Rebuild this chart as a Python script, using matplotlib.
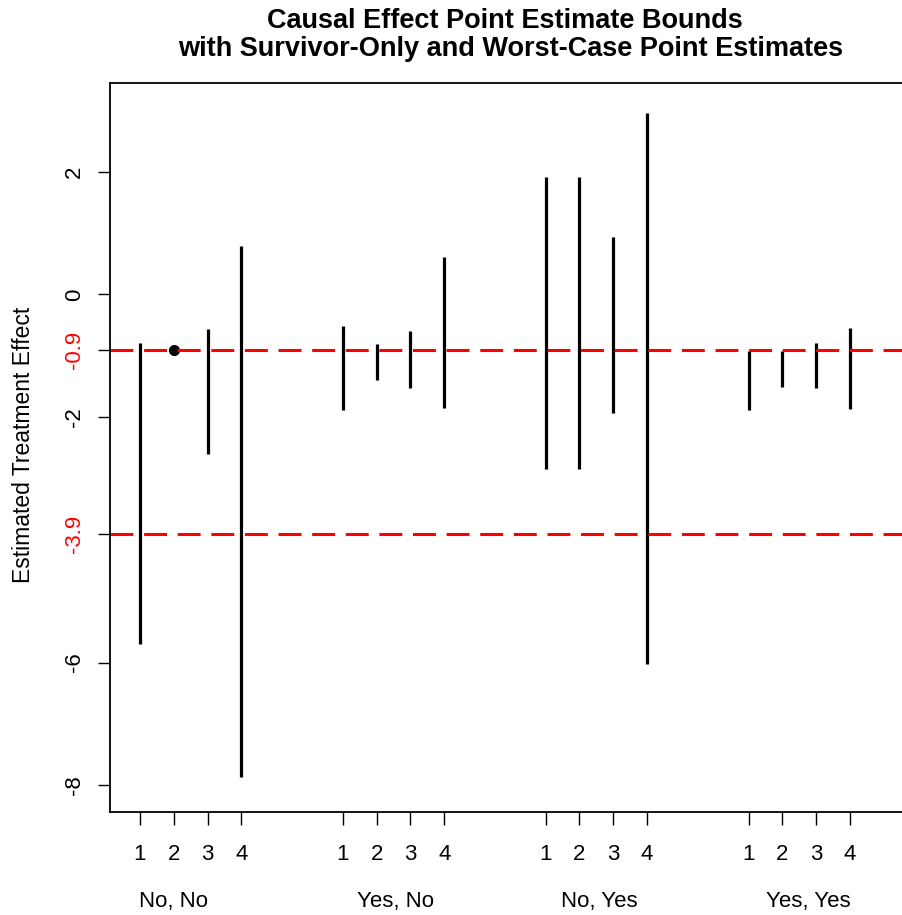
import numpy as np
import matplotlib.pyplot as plt

plt.rcParams['font.family'] = ['Liberation Sans', 'DejaVu Sans']

# bounds per group (survival pattern) and scenario 1..4
groupes = ['No, No', 'Yes, No', 'No, Yes', 'Yes, Yes']
scenarios = ['1', '2', '3', '4']
positions = [1, 2, 3, 4, 7, 8, 9, 10, 13, 14, 15, 16, 19, 20, 21, 22]
pos_groupes = [2.0, 8.56, 14.6, 20.76]

bornes_hautes = [-0.79, -0.9, -0.56, 0.79,
                 -0.51, -0.81, -0.60, 0.61,
                 1.91, 1.91, 0.935, 2.96,
                 -0.92, -0.92, -0.79, -0.54]
bornes_basses = [-5.69, -0.9, -2.60, -7.87,
                 -1.89, -1.40, -1.53, -1.85,
                 -2.84, -2.84, -1.94, -6.02,
                 -1.89, -1.51, -1.53, -1.86]

survivant = -0.9
pire_cas = -3.9
yticks = [2, 0, -2, -6, -8]

fig = plt.figure(figsize=(9.03, 9.15), dpi=100)
ax = fig.add_axes([0.1220, 0.1122, 0.8897, 0.7968])

for x, h, b in zip(positions, bornes_hautes, bornes_basses):
    if h == b:
        ax.plot(x, h, 'o', color='black', markersize=7)
    else:
        ax.vlines(x, b, h, color='black', linewidth=2.3)

for v in [survivant, pire_cas]:
    ax.axhline(v, color='red', linewidth=2.2, linestyle=(0, (7.5, 3.5)))

ax.set_xlim(0.12, 23.88)
ax.set_ylim(-8.44, 3.44)

for s in ax.spines.values():
    s.set_linewidth(1.3)

ax.set_yticks(yticks + [survivant, pire_cas])
ax.set_yticklabels([str(t) for t in yticks] + ['-0.9', '-3.9'],
                   rotation=90, va='center', fontsize=16)
for lab in ax.get_yticklabels()[-2:]:
    lab.set_color('red')
for t in ax.yaxis.get_major_ticks()[-2:]:
    t.tick1line.set_color('red')
ax.tick_params(axis='y', length=9, width=1.0, pad=9)

ax.set_xticks(positions)
ax.set_xticklabels(scenarios * 4, fontsize=16)
ax.tick_params(axis='x', length=9, width=1.0, pad=14)

for x, g in zip(pos_groupes, groupes):
    ax.text(x, -0.122, g, transform=ax.get_xaxis_transform(),
            ha='center', va='center', fontsize=16)

fig.text(24 / 903, 1 - 445 / 915, 'Estimated Treatment Effect',
         rotation=90, ha='center', va='center', fontsize=16.5)
fig.text(0.5595, 1 - 28 / 915, 'Causal Effect Point Estimate Bounds',
         ha='center', va='baseline', fontsize=19.5, fontweight='bold')
fig.text(0.5655, 1 - 56 / 915, 'with Survivor-Only and Worst-Case Point Estimates',
         ha='center', va='baseline', fontsize=19.5, fontweight='bold')

fig.savefig('out.png', dpi=100)
